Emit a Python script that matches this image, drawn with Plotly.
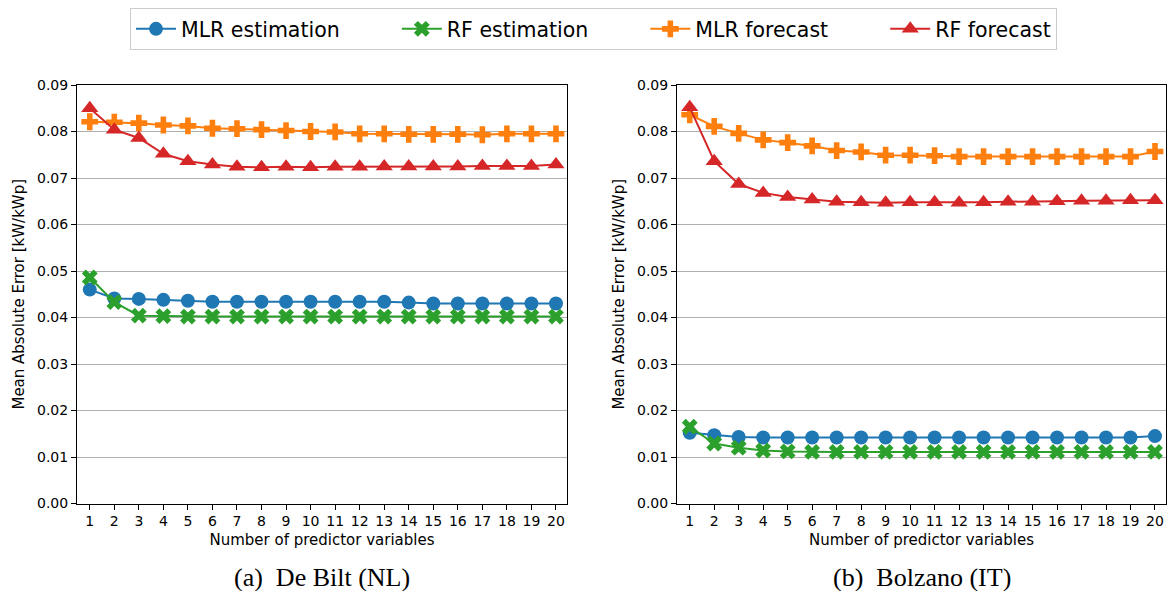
import plotly.graph_objects as go
from plotly.subplots import make_subplots

x_vals = list(range(1, 21))

# De Bilt (NL)
nl_mlr_est = [0.0460, 0.0441, 0.0440, 0.0438, 0.0436, 0.0434, 0.0434, 0.0434, 0.0434, 0.0434,
              0.0434, 0.0434, 0.0434, 0.0432, 0.0430, 0.0430, 0.0430, 0.0430, 0.0430, 0.0430]
nl_rf_est = [0.0486, 0.0433, 0.0404, 0.0403, 0.0402, 0.0402, 0.0402, 0.0402, 0.0402, 0.0402,
             0.0402, 0.0402, 0.0402, 0.0402, 0.0402, 0.0402, 0.0402, 0.0402, 0.0402, 0.0402]
nl_mlr_fc = [0.0821, 0.0820, 0.0818, 0.0814, 0.0812, 0.0807, 0.0806, 0.0804, 0.0802, 0.0800,
             0.0799, 0.0795, 0.0795, 0.0794, 0.0794, 0.0794, 0.0793, 0.0795, 0.0795, 0.0795]
nl_rf_fc = [0.0850, 0.0804, 0.0786, 0.0752, 0.0736, 0.0729, 0.0724, 0.0723, 0.0724, 0.0723,
            0.0724, 0.0724, 0.0725, 0.0725, 0.0725, 0.0725, 0.0726, 0.0726, 0.0726, 0.0729]

# Bolzano (IT)
it_mlr_est = [0.0152, 0.0147, 0.0143, 0.0142, 0.0142, 0.0142, 0.0142, 0.0142, 0.0142, 0.0142,
              0.0142, 0.0142, 0.0142, 0.0142, 0.0142, 0.0142, 0.0142, 0.0142, 0.0142, 0.0145]
it_rf_est = [0.0165, 0.0129, 0.0120, 0.0114, 0.0112, 0.0111, 0.0111, 0.0111, 0.0111, 0.0111,
             0.0111, 0.0111, 0.0111, 0.0111, 0.0111, 0.0111, 0.0111, 0.0111, 0.0111, 0.0111]
it_mlr_fc = [0.0836, 0.0811, 0.0796, 0.0782, 0.0776, 0.0769, 0.0759, 0.0756, 0.0749, 0.0749,
             0.0748, 0.0746, 0.0746, 0.0746, 0.0746, 0.0746, 0.0746, 0.0746, 0.0746, 0.0757]
it_rf_fc = [0.0852, 0.0736, 0.0687, 0.0668, 0.0659, 0.0654, 0.0649, 0.0648, 0.0647, 0.0648,
            0.0648, 0.0647, 0.0648, 0.0649, 0.0649, 0.0650, 0.0651, 0.0651, 0.0652, 0.0652]

series_names = ["MLR estimation", "RF estimation", "MLR forecast", "RF forecast"]
colors = ["#1f77b4", "#2ca02c", "#ff7f0e", "#d62728"]
symbols = ["circle", "x", "cross", "triangle-up"]
captions = ["(a)  De Bilt (NL)", "(b)  Bolzano (IT)"]

fig = make_subplots(rows=1, cols=2, horizontal_spacing=0.05)

panels = [[nl_mlr_est, nl_rf_est, nl_mlr_fc, nl_rf_fc],
          [it_mlr_est, it_rf_est, it_mlr_fc, it_rf_fc]]

pad = "\u00a0" * 8
for c, data in enumerate(panels, start=1):
    for i, ys in enumerate(data):
        label = series_names[i] + (pad if i < 3 else "")
        fig.add_trace(go.Scatter(
            x=x_vals, y=ys, mode="lines+markers", name=label,
            showlegend=(c == 1),
            line=dict(color=colors[i], width=2),
            marker=dict(symbol=symbols[i], size=14 if symbols[i] != "triangle-up" else 15,
                        color=colors[i], line=dict(width=0)),
        ), row=1, col=c)

font = "DejaVu Sans"
bottom = 1 - 503.5 / 591
top = 1 - 85 / 591
doms = [(77 / 1167, 567 / 1167), (677 / 1167, 1166 / 1167)]

for c in (1, 2):
    xa = "xaxis" if c == 1 else "xaxis2"
    ya = "yaxis" if c == 1 else "yaxis2"
    fig.layout[xa].update(
        domain=list(doms[c - 1]), range=[0.48, 20.45], tickmode="array", tickvals=x_vals,
        ticktext=[str(v) for v in x_vals], ticks="outside", ticklen=5, tickwidth=1,
        tickcolor="black", showline=True, linecolor="black", linewidth=1, mirror=True,
        showgrid=False, zeroline=False, automargin=False,
        tickfont=dict(family=font, size=14, color="black"),
        title=dict(text="Number of predictor variables", font=dict(family=font, size=15, color="black"), standoff=6),
    )
    fig.layout[ya].update(
        domain=[bottom, top], range=[0, 0.09], dtick=0.01, tickformat=".2f",
        ticks="outside", ticklen=5, tickwidth=1, tickcolor="black",
        showline=True, linecolor="black", linewidth=1, mirror=True,
        showgrid=True, gridcolor="#b0b0b0", gridwidth=1, zeroline=False, automargin=False,
        tickfont=dict(family=font, size=14, color="black"),
        title=dict(text="Mean Absolute Error [kW/kWp]", font=dict(family=font, size=15, color="black"), standoff=8),
    )

annotations = []
for c in (1, 2):
    x0, x1 = doms[c - 1]
    annotations.append(dict(
        text=captions[c - 1], x=(x0 + x1) / 2, y=1 - 577 / 591, xref="paper", yref="paper",
        xanchor="center", yanchor="middle", showarrow=False,
        font=dict(family="Liberation Serif", size=26, color="black"),
    ))

fig.update_layout(
    width=1167, height=591,
    margin=dict(l=0, r=0, t=0, b=0),
    plot_bgcolor="white", paper_bgcolor="white",
    annotations=annotations,
    legend=dict(
        orientation="h", x=593.5 / 1167, y=1 - 8 / 591, xanchor="center", yanchor="top",
        bordercolor="#cccccc", borderwidth=1, bgcolor="white",
        font=dict(family=font, size=20.5, color="black"),
        itemwidth=40,
    ),
)

fig.write_html("out.html")
